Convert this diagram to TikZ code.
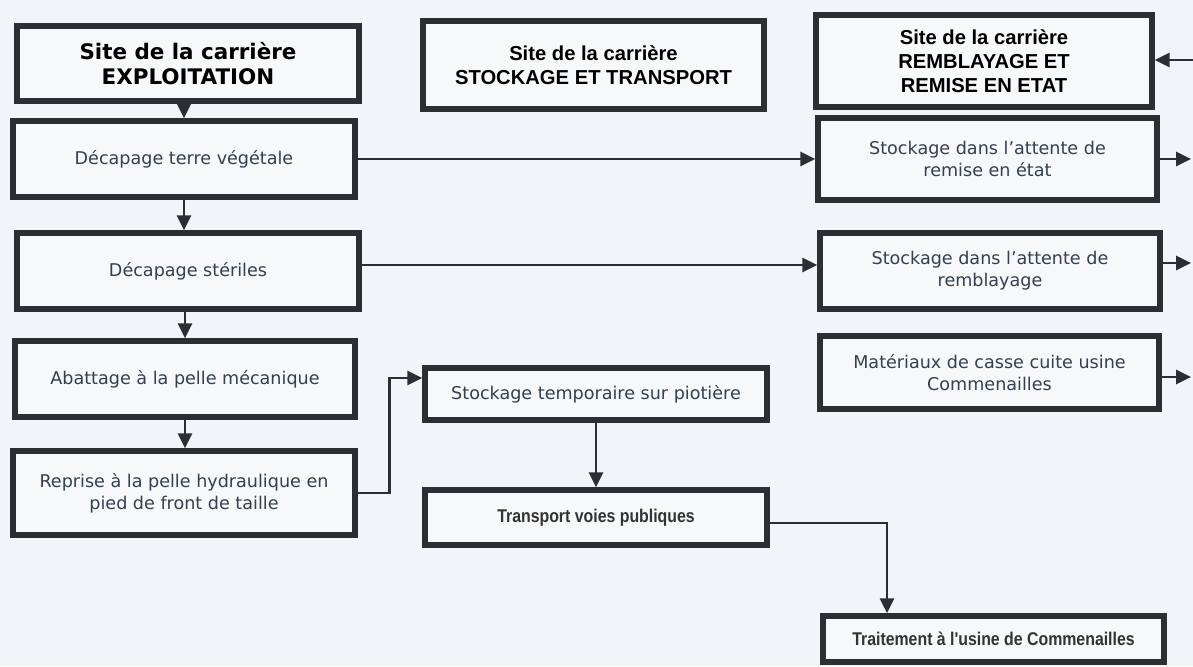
\documentclass[tikz,border=0pt]{standalone}
\usepackage{fontspec}
\setmainfont{DejaVu Sans}
\newfontfamily\arialfont{Liberation Sans}
\newfontfamily\narrowfont[FakeStretch=0.86]{Liberation Sans}
\usetikzlibrary{arrows.meta}
\definecolor{bordergray}{HTML}{2B2F31}
\definecolor{textslate}{HTML}{34404E}
\definecolor{paper}{HTML}{F2F4F7}
\definecolor{boxfill}{HTML}{F7F8FA}

\begin{document}
\begin{tikzpicture}[x=0.02cm, y=-0.02cm,
		box/.style={draw=bordergray, line width=3.2pt, fill=boxfill, align=center, inner sep=2pt, text=textslate, font=\fontsize{10}{12.5}\selectfont},
		head/.style={box, text=black, font=\fontsize{12.2}{14}\selectfont\bfseries},
		arialhead/.style={box, text=black, font=\arialfont\fontsize{11.5}{13.5}\selectfont\bfseries},
		arialbox/.style={box, text=black!80, font=\narrowfont\fontsize{10.5}{12}\selectfont\bfseries},
		flow/.style={draw=bordergray, line width=1.6pt, -{Triangle[length=8.5pt,width=8pt]}}]
			% Background
			\fill[paper] (0,0) rectangle (1193,666);
			\useasboundingbox (0,0) rectangle (1193,666);
			
			% Define nodes
			\node[head, minimum width=6.84cm, minimum height=1.5cm] (exploit) at (188,63.5) {Site de la carrière\\EXPLOITATION}; % Left column
			\node[box, minimum width=6.84cm, minimum height=1.52cm] (terre) at (184,159) {Décapage terre végétale};
			\node[box, minimum width=6.84cm, minimum height=1.52cm] (steriles) at (188,271) {Décapage stériles};
			\node[box, minimum width=6.8cm, minimum height=1.52cm] (abattage) at (185,379) {Abattage à la pelle mécanique};
			\node[box, minimum width=6.84cm, minimum height=1.68cm] (reprise) at (184,493) {Reprise à la pelle hydraulique en\\pied de front de taille};
			\node[arialhead, minimum width=6.82cm, minimum height=1.76cm] (transport) at (593.5,65) {Site de la carrière\\STOCKAGE ET TRANSPORT}; % Middle column
			\node[box, minimum width=6.84cm, minimum height=1.04cm] (piotiere) at (596,394) {Stockage temporaire sur piotière};
			\node[arialbox, minimum width=6.84cm, minimum height=1.1cm] (voies) at (596,517.5) {Transport voies publiques};
			\node[arialbox, minimum width=6.82cm, minimum height=0.92cm] (usine) at (993.5,639) {Traitement à l'usine de Commenailles};
			\node[arialhead, minimum width=6.72cm, minimum height=1.84cm] (remise) at (984,61) {Site de la carrière\\REMBLAYAGE ET\\REMISE EN ETAT}; % Right column
			\node[box, minimum width=6.78cm, minimum height=1.64cm] (attremise) at (987.5,159) {Stockage dans l’attente de\\remise en état};
			\node[box, minimum width=6.8cm, minimum height=1.52cm] (attremblai) at (990,271) {Stockage dans l’attente de\\remblayage};
			\node[box, minimum width=6.78cm, minimum height=1.46cm] (casse) at (989.5,372.5) {Matériaux de casse cuite usine\\Commenailles};
			
			% Free ends on the right edge
			\coordinate (edgeremise) at (1193,60);
			\coordinate (edgeattremise) at (1191,159);
			\coordinate (edgeattremblai) at (1191,263);
			\coordinate (edgecasse) at (1191,377);
			
			% Connect nodes
			\draw[flow] (terre |- exploit.south) -- (terre.north);
			\draw[flow] (terre.south) -- (terre.south |- steriles.north);
			\draw[flow] (abattage |- steriles.south) -- (abattage.north);
			\draw[flow] (abattage.south) -- (abattage.south |- reprise.north);
			\draw[flow] (terre.east) -- (terre.east -| attremise.west);
			\draw[flow] ([yshift=0.12cm]steriles.east) -- ([yshift=0.12cm]steriles.east -| attremblai.west);
			\draw[flow] (reprise.east) -- ++(32,0) |- ([yshift=0.32cm]piotiere.west);
			\draw[flow] (piotiere.south) -- (piotiere.south |- voies.north);
			\draw[flow] ([yshift=-0.11cm]voies.east) -| ([xshift=-2.13cm]usine.north);
			\draw[flow] (edgeremise) -- (edgeremise -| remise.east);
			\draw[flow] (attremise.east |- edgeattremise) -- (edgeattremise);
			\draw[flow] (attremblai.east |- edgeattremblai) -- (edgeattremblai);
			\draw[flow] (casse.east |- edgecasse) -- (edgecasse);
		\end{tikzpicture}
\end{document}
